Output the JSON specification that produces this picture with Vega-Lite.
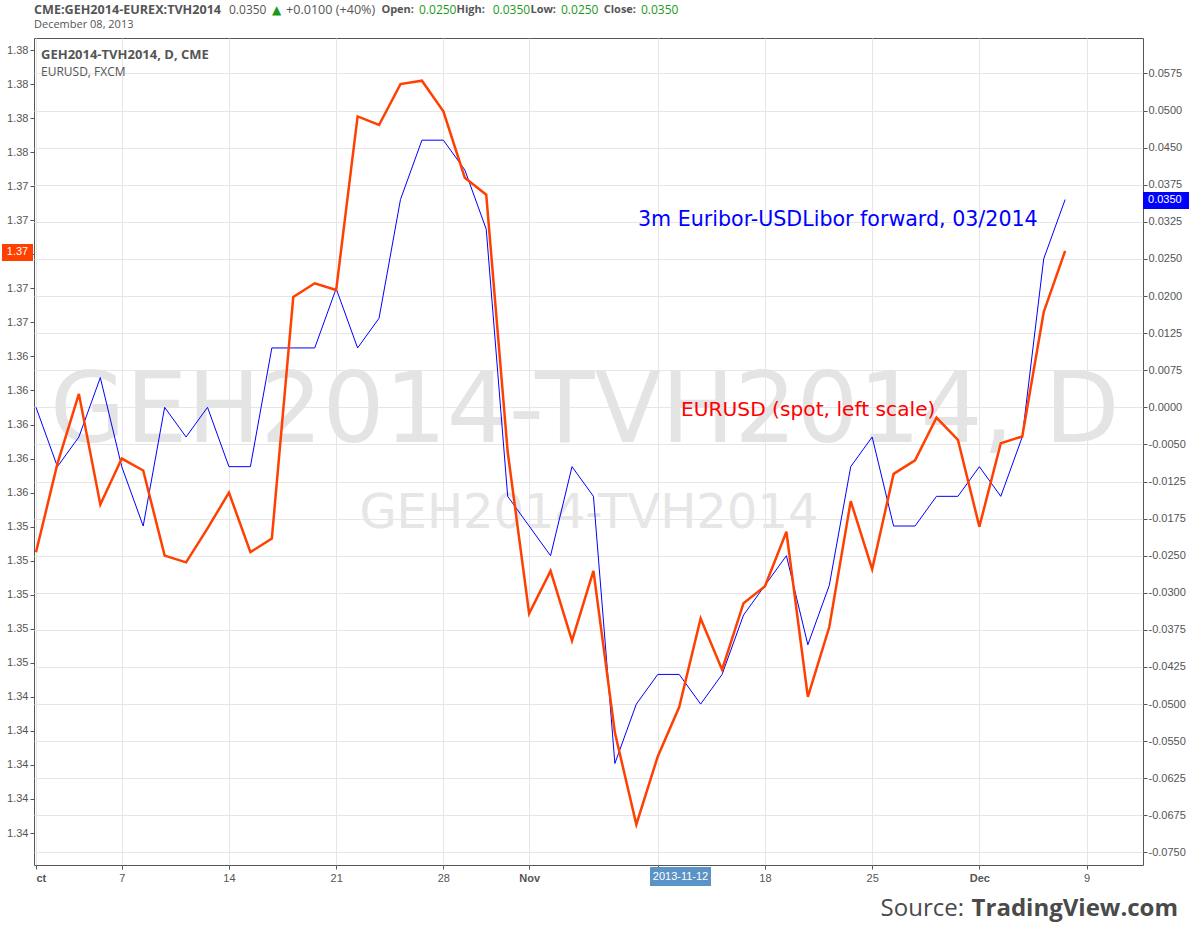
{
  "$schema": "https://vega.github.io/schema/vega-lite/v6.json",
  "width": 1109,
  "height": 827,
  "autosize": "none",
  "padding": {"left": 34, "top": 38, "right": 50, "bottom": 71},
  "background": "white",
  "config": {"view": {"stroke": "#555555", "strokeWidth": 1}},
  "datasets": {
    "prices": [
      {"i": 0, "date": "2013-10-01", "eurusd": 1.3525, "spread": 0.000},
      {"i": 1, "date": "2013-10-02", "eurusd": 1.3577, "spread": -0.010},
      {"i": 2, "date": "2013-10-03", "eurusd": 1.3618, "spread": -0.005},
      {"i": 3, "date": "2013-10-04", "eurusd": 1.3553, "spread": 0.005},
      {"i": 4, "date": "2013-10-07", "eurusd": 1.3580, "spread": -0.010},
      {"i": 5, "date": "2013-10-08", "eurusd": 1.3573, "spread": -0.020},
      {"i": 6, "date": "2013-10-09", "eurusd": 1.3523, "spread": 0.000},
      {"i": 7, "date": "2013-10-10", "eurusd": 1.3519, "spread": -0.005},
      {"i": 8, "date": "2013-10-11", "eurusd": 1.3539, "spread": 0.000},
      {"i": 9, "date": "2013-10-14", "eurusd": 1.3560, "spread": -0.010},
      {"i": 10, "date": "2013-10-15", "eurusd": 1.3525, "spread": -0.010},
      {"i": 11, "date": "2013-10-16", "eurusd": 1.3533, "spread": 0.010},
      {"i": 12, "date": "2013-10-17", "eurusd": 1.3675, "spread": 0.010},
      {"i": 13, "date": "2013-10-18", "eurusd": 1.3683, "spread": 0.010},
      {"i": 14, "date": "2013-10-21", "eurusd": 1.3679, "spread": 0.020},
      {"i": 15, "date": "2013-10-22", "eurusd": 1.3781, "spread": 0.010},
      {"i": 16, "date": "2013-10-23", "eurusd": 1.3776, "spread": 0.015},
      {"i": 17, "date": "2013-10-24", "eurusd": 1.3800, "spread": 0.035},
      {"i": 18, "date": "2013-10-25", "eurusd": 1.3802, "spread": 0.045},
      {"i": 19, "date": "2013-10-28", "eurusd": 1.3784, "spread": 0.045},
      {"i": 20, "date": "2013-10-29", "eurusd": 1.3745, "spread": 0.040},
      {"i": 21, "date": "2013-10-30", "eurusd": 1.3735, "spread": 0.030},
      {"i": 22, "date": "2013-10-31", "eurusd": 1.3584, "spread": -0.015},
      {"i": 23, "date": "2013-11-01", "eurusd": 1.3489, "spread": -0.020},
      {"i": 24, "date": "2013-11-04", "eurusd": 1.3514, "spread": -0.025},
      {"i": 25, "date": "2013-11-05", "eurusd": 1.3473, "spread": -0.010},
      {"i": 26, "date": "2013-11-06", "eurusd": 1.3514, "spread": -0.015},
      {"i": 27, "date": "2013-11-07", "eurusd": 1.3419, "spread": -0.060},
      {"i": 28, "date": "2013-11-08", "eurusd": 1.3365, "spread": -0.050},
      {"i": 29, "date": "2013-11-11", "eurusd": 1.3405, "spread": -0.045},
      {"i": 30, "date": "2013-11-12", "eurusd": 1.3434, "spread": -0.045},
      {"i": 31, "date": "2013-11-13", "eurusd": 1.3486, "spread": -0.050},
      {"i": 32, "date": "2013-11-14", "eurusd": 1.3456, "spread": -0.045},
      {"i": 33, "date": "2013-11-15", "eurusd": 1.3495, "spread": -0.035},
      {"i": 34, "date": "2013-11-18", "eurusd": 1.3505, "spread": -0.030},
      {"i": 35, "date": "2013-11-19", "eurusd": 1.3537, "spread": -0.025},
      {"i": 36, "date": "2013-11-20", "eurusd": 1.3440, "spread": -0.040},
      {"i": 37, "date": "2013-11-21", "eurusd": 1.3481, "spread": -0.030},
      {"i": 38, "date": "2013-11-22", "eurusd": 1.3555, "spread": -0.010},
      {"i": 39, "date": "2013-11-25", "eurusd": 1.3515, "spread": -0.005},
      {"i": 40, "date": "2013-11-26", "eurusd": 1.3571, "spread": -0.020},
      {"i": 41, "date": "2013-11-27", "eurusd": 1.3579, "spread": -0.020},
      {"i": 42, "date": "2013-11-28", "eurusd": 1.3604, "spread": -0.015},
      {"i": 43, "date": "2013-11-29", "eurusd": 1.3591, "spread": -0.015},
      {"i": 44, "date": "2013-12-02", "eurusd": 1.3540, "spread": -0.010},
      {"i": 45, "date": "2013-12-03", "eurusd": 1.3589, "spread": -0.015},
      {"i": 46, "date": "2013-12-04", "eurusd": 1.3593, "spread": -0.005},
      {"i": 47, "date": "2013-12-05", "eurusd": 1.3666, "spread": 0.025},
      {"i": 48, "date": "2013-12-06", "eurusd": 1.3702, "spread": 0.035}
    ]
  },
  "layer": [
    {
      "layer": [
        {
          "data": {"values": [{"label": "GEH2014-TVH2014, D"}]},
          "mark": {"type": "text", "align": "center", "baseline": "alphabetic", "font": "DejaVu Sans", "fontSize": 97.5, "color": "#e4e4e4", "clip": false},
          "encoding": {
            "x": {"datum": 25.6, "type": "quantitative", "scale": {"domain": [-0.0933, 51.632], "nice": false, "zero": false}},
            "y": {"datum": -0.005846, "type": "quantitative", "scale": {"domain": [-0.077106, 0.062214], "nice": false, "zero": false}},
            "text": {"field": "label"}
          }
        },
        {
          "data": {"values": [{"label": "GEH2014-TVH2014"}]},
          "mark": {"type": "text", "align": "center", "baseline": "alphabetic", "font": "DejaVu Sans", "fontSize": 48, "color": "#e6e6e6", "clip": false},
          "encoding": {
            "x": {"datum": 25.79, "type": "quantitative", "scale": {"domain": [-0.0933, 51.632], "nice": false, "zero": false}},
            "y": {"datum": -0.020333, "type": "quantitative", "scale": {"domain": [-0.077106, 0.062214], "nice": false, "zero": false}},
            "text": {"field": "label"}
          }
        },
        {
          "data": {"name": "prices"},
          "mark": {"type": "line", "color": "#0000ff", "strokeWidth": 1, "clip": false},
          "encoding": {
            "x": {
              "field": "i", "type": "quantitative",
              "scale": {"domain": [-0.0933, 51.632], "nice": false, "zero": false},
              "axis": {
                "title": null,
                "values": [0, 4, 9, 14, 19, 23, 29, 34, 39, 44, 49],
                "tickCount": 60,
                "labelExpr": "datum.value==0?'ct':datum.value==4?'7':datum.value==9?'14':datum.value==14?'21':datum.value==19?'28':datum.value==23?'Nov':datum.value==34?'18':datum.value==39?'25':datum.value==44?'Dec':datum.value==49?'9':''",
                "grid": true, "gridColor": "#e6e6e6", "gridWidth": 1,
                "domain": false, "tickSize": 4, "tickColor": "#555555",
                "labelFont": "Liberation Sans", "labelFontSize": 11, "labelColor": "#555555",
                "labelFontWeight": {"condition": {"test": "datum.value==0||datum.value==23||datum.value==44", "value": "bold"}, "value": "normal"},
                "labelAlign": {"condition": {"test": "datum.value==0", "value": "left"}, "value": "center"},
                "labelFlush": false, "labelOverlap": false, "labelPadding": 3
              }
            },
            "y": {
              "field": "spread", "type": "quantitative",
              "scale": {"domain": [-0.077106, 0.062214], "nice": false, "zero": false},
              "axis": {
                "orient": "right", "title": null,
                "values": [-0.075, -0.06875, -0.0625, -0.05625, -0.05, -0.04375, -0.0375, -0.03125, -0.025, -0.01875, -0.0125, -0.00625, 0, 0.00625, 0.0125, 0.01875, 0.025, 0.03125, 0.0375, 0.04375, 0.05, 0.05625],
                "tickCount": 60,
                "labelExpr": "(datum.value < -0.000001 ? '-' : '') + format(abs(round(datum.value*400 + 0.000001))/400, '.4f')",
                "grid": true, "gridColor": "#e6e6e6", "gridWidth": 1,
                "domain": false, "tickSize": 4, "tickColor": "#555555",
                "labelFont": "Liberation Sans", "labelFontSize": 11, "labelColor": "#555555",
                "labelFlush": false, "labelOverlap": false, "labelPadding": 1
              }
            }
          }
        },
        {
          "data": {"values": [{"label": "3m Euribor-USDLibor forward, 03/2014"}]},
          "mark": {"type": "text", "align": "left", "baseline": "middle", "font": "DejaVu Sans", "fontSize": 20.6, "color": "#0000ff", "clip": false},
          "encoding": {
            "x": {"datum": 28.078, "type": "quantitative", "scale": {"domain": [-0.0933, 51.632], "nice": false, "zero": false}},
            "y": {"datum": 0.031554, "type": "quantitative", "scale": {"domain": [-0.077106, 0.062214], "nice": false, "zero": false}},
            "text": {"field": "label"}
          }
        },
        {
          "data": {"values": [{"label": "0.0350"}]},
          "mark": {"type": "rect", "color": "#0000ff", "clip": false},
          "encoding": {
            "x": {"datum": 51.632, "type": "quantitative", "scale": {"domain": [-0.0933, 51.632], "nice": false, "zero": false}},
            "x2": {"datum": 53.778},
            "y": {"datum": 0.03341, "type": "quantitative", "scale": {"domain": [-0.077106, 0.062214], "nice": false, "zero": false}},
            "y2": {"datum": 0.03627}
          }
        },
        {
          "data": {"values": [{"label": "0.0350"}]},
          "mark": {"type": "text", "align": "left", "baseline": "middle", "font": "Liberation Sans", "fontSize": 11, "color": "#ffffff", "clip": false},
          "encoding": {
            "x": {"datum": 51.866, "type": "quantitative", "scale": {"domain": [-0.0933, 51.632], "nice": false, "zero": false}},
            "y": {"datum": 0.03484, "type": "quantitative", "scale": {"domain": [-0.077106, 0.062214], "nice": false, "zero": false}},
            "text": {"field": "label"}
          }
        }
      ]
    },
    {
      "layer": [
        {
          "data": {"name": "prices"},
          "mark": {"type": "line", "color": "#ff4000", "strokeWidth": 2.5, "clip": false},
          "encoding": {
            "x": {"field": "i", "type": "quantitative", "scale": {"domain": [-0.0933, 51.632], "nice": false, "zero": false}},
            "y": {
              "field": "eurusd", "type": "quantitative",
              "scale": {"domain": [1.33412, 1.38271], "nice": false, "zero": false},
              "axis": {
                "orient": "left", "title": null,
                "values": [1.336, 1.338, 1.34, 1.342, 1.344, 1.346, 1.348, 1.35, 1.352, 1.354, 1.356, 1.358, 1.36, 1.362, 1.364, 1.366, 1.368, 1.37, 1.372, 1.374, 1.376, 1.378, 1.38, 1.382],
                "tickCount": 60,
                "labelExpr": "(datum.value > 1.3699 && datum.value < 1.3701) ? '' : format(datum.value, '.2f')",
                "grid": false, "domain": false, "tickSize": 4, "tickColor": "#555555",
                "labelFont": "Liberation Sans", "labelFontSize": 11, "labelColor": "#555555",
                "labelFlush": false, "labelOverlap": false, "labelPadding": 2
              }
            }
          }
        },
        {
          "data": {"values": [{"label": "EURUSD (spot, left scale)"}]},
          "mark": {"type": "text", "align": "left", "baseline": "middle", "font": "DejaVu Sans", "fontSize": 20.2, "color": "#ff0000", "clip": false},
          "encoding": {
            "x": {"datum": 30.084, "type": "quantitative", "scale": {"domain": [-0.0933, 51.632], "nice": false, "zero": false}},
            "y": {"datum": 1.360853, "type": "quantitative", "scale": {"domain": [1.33412, 1.38271], "nice": false, "zero": false}},
            "text": {"field": "label"}
          }
        },
        {
          "data": {"values": [{"label": "1.37"}]},
          "mark": {"type": "rect", "color": "#ff4000", "clip": false},
          "encoding": {
            "x": {"datum": -1.586, "type": "quantitative", "scale": {"domain": [-0.0933, 51.632], "nice": false, "zero": false}},
            "x2": {"datum": -0.140},
            "y": {"datum": 1.369608, "type": "quantitative", "scale": {"domain": [1.33412, 1.38271], "nice": false, "zero": false}},
            "y2": {"datum": 1.370606}
          }
        },
        {
          "data": {"values": [{"label": "1.37"}]},
          "mark": {"type": "text", "align": "center", "baseline": "middle", "font": "Liberation Sans", "fontSize": 11, "color": "#ffffff", "clip": false},
          "encoding": {
            "x": {"datum": -0.863, "type": "quantitative", "scale": {"domain": [-0.0933, 51.632], "nice": false, "zero": false}},
            "y": {"datum": 1.37015, "type": "quantitative", "scale": {"domain": [1.33412, 1.38271], "nice": false, "zero": false}},
            "text": {"field": "label"}
          }
        },
        {
          "data": {"values": [{"label": "2013-11-12"}]},
          "mark": {"type": "rect", "color": "#5b93c7", "clip": false},
          "encoding": {
            "x": {"datum": 28.638, "type": "quantitative", "scale": {"domain": [-0.0933, 51.632], "nice": false, "zero": false}},
            "x2": {"datum": 31.483},
            "y": {"datum": 1.332886, "type": "quantitative", "scale": {"domain": [1.33412, 1.38271], "nice": false, "zero": false}},
            "y2": {"datum": 1.334002}
          }
        },
        {
          "data": {"values": [{"label": "2013-11-12"}]},
          "mark": {"type": "text", "align": "center", "baseline": "middle", "font": "Liberation Sans", "fontSize": 11, "color": "#ffffff", "clip": false},
          "encoding": {
            "x": {"datum": 30.06, "type": "quantitative", "scale": {"domain": [-0.0933, 51.632], "nice": false, "zero": false}},
            "y": {"datum": 1.333444, "type": "quantitative", "scale": {"domain": [1.33412, 1.38271], "nice": false, "zero": false}},
            "text": {"field": "label"}
          }
        },
        {
          "data": {"values": [{"label": "CME:GEH2014-EUREX:TVH2014"}]},
          "mark": {"type": "text", "align": "left", "baseline": "middle", "font": "Open Sans", "fontSize": 12.6, "fontWeight": "bold", "color": "#555555", "clip": false},
          "encoding": {
            "x": {"datum": -0.0933, "type": "quantitative", "scale": {"domain": [-0.0933, 51.632], "nice": false, "zero": false}},
            "y": {"datum": 1.384355, "type": "quantitative", "scale": {"domain": [1.33412, 1.38271], "nice": false, "zero": false}},
            "text": {"field": "label"}
          }
        },
        {
          "data": {"values": [{"label": "0.0350"}]},
          "mark": {"type": "text", "align": "left", "baseline": "middle", "font": "Open Sans", "fontSize": 12, "color": "#555555", "clip": false},
          "encoding": {
            "x": {"datum": 9.002, "type": "quantitative", "scale": {"domain": [-0.0933, 51.632], "nice": false, "zero": false}},
            "y": {"datum": 1.384355, "type": "quantitative", "scale": {"domain": [1.33412, 1.38271], "nice": false, "zero": false}},
            "text": {"field": "label"}
          }
        },
        {
          "data": {"values": [{"label": "▲"}]},
          "mark": {"type": "text", "align": "left", "baseline": "middle", "font": "DejaVu Sans", "fontSize": 12, "color": "#1a9a1a", "clip": false},
          "encoding": {
            "x": {"datum": 11.007, "type": "quantitative", "scale": {"domain": [-0.0933, 51.632], "nice": false, "zero": false}},
            "y": {"datum": 1.384355, "type": "quantitative", "scale": {"domain": [1.33412, 1.38271], "nice": false, "zero": false}},
            "text": {"field": "label"}
          }
        },
        {
          "data": {"values": [{"label": "+0.0100 (+40%)"}]},
          "mark": {"type": "text", "align": "left", "baseline": "middle", "font": "Open Sans", "fontSize": 12.6, "color": "#555555", "clip": false},
          "encoding": {
            "x": {"datum": 11.66, "type": "quantitative", "scale": {"domain": [-0.0933, 51.632], "nice": false, "zero": false}},
            "y": {"datum": 1.384355, "type": "quantitative", "scale": {"domain": [1.33412, 1.38271], "nice": false, "zero": false}},
            "text": {"field": "label"}
          }
        },
        {
          "data": {"values": [{"label": "Open:"}]},
          "mark": {"type": "text", "align": "right", "baseline": "middle", "font": "Open Sans", "fontSize": 11, "fontWeight": "bold", "color": "#555555", "clip": false},
          "encoding": {
            "x": {"datum": 17.63, "type": "quantitative", "scale": {"domain": [-0.0933, 51.632], "nice": false, "zero": false}},
            "y": {"datum": 1.384355, "type": "quantitative", "scale": {"domain": [1.33412, 1.38271], "nice": false, "zero": false}},
            "text": {"field": "label"}
          }
        },
        {
          "data": {"values": [{"label": "0.0250"}]},
          "mark": {"type": "text", "align": "left", "baseline": "middle", "font": "Open Sans", "fontSize": 12, "color": "#1a9a1a", "clip": false},
          "encoding": {
            "x": {"datum": 17.864, "type": "quantitative", "scale": {"domain": [-0.0933, 51.632], "nice": false, "zero": false}},
            "y": {"datum": 1.384355, "type": "quantitative", "scale": {"domain": [1.33412, 1.38271], "nice": false, "zero": false}},
            "text": {"field": "label"}
          }
        },
        {
          "data": {"values": [{"label": "High:"}]},
          "mark": {"type": "text", "align": "right", "baseline": "middle", "font": "Open Sans", "fontSize": 11, "fontWeight": "bold", "color": "#555555", "clip": false},
          "encoding": {
            "x": {"datum": 20.94, "type": "quantitative", "scale": {"domain": [-0.0933, 51.632], "nice": false, "zero": false}},
            "y": {"datum": 1.384355, "type": "quantitative", "scale": {"domain": [1.33412, 1.38271], "nice": false, "zero": false}},
            "text": {"field": "label"}
          }
        },
        {
          "data": {"values": [{"label": "0.0350"}]},
          "mark": {"type": "text", "align": "left", "baseline": "middle", "font": "Open Sans", "fontSize": 12, "color": "#1a9a1a", "clip": false},
          "encoding": {
            "x": {"datum": 21.3, "type": "quantitative", "scale": {"domain": [-0.0933, 51.632], "nice": false, "zero": false}},
            "y": {"datum": 1.384355, "type": "quantitative", "scale": {"domain": [1.33412, 1.38271], "nice": false, "zero": false}},
            "text": {"field": "label"}
          }
        },
        {
          "data": {"values": [{"label": "Low:"}]},
          "mark": {"type": "text", "align": "right", "baseline": "middle", "font": "Open Sans", "fontSize": 11, "fontWeight": "bold", "color": "#555555", "clip": false},
          "encoding": {
            "x": {"datum": 24.254, "type": "quantitative", "scale": {"domain": [-0.0933, 51.632], "nice": false, "zero": false}},
            "y": {"datum": 1.384355, "type": "quantitative", "scale": {"domain": [1.33412, 1.38271], "nice": false, "zero": false}},
            "text": {"field": "label"}
          }
        },
        {
          "data": {"values": [{"label": "0.0250"}]},
          "mark": {"type": "text", "align": "left", "baseline": "middle", "font": "Open Sans", "fontSize": 12, "color": "#1a9a1a", "clip": false},
          "encoding": {
            "x": {"datum": 24.487, "type": "quantitative", "scale": {"domain": [-0.0933, 51.632], "nice": false, "zero": false}},
            "y": {"datum": 1.384355, "type": "quantitative", "scale": {"domain": [1.33412, 1.38271], "nice": false, "zero": false}},
            "text": {"field": "label"}
          }
        },
        {
          "data": {"values": [{"label": "Close:"}]},
          "mark": {"type": "text", "align": "right", "baseline": "middle", "font": "Open Sans", "fontSize": 11, "fontWeight": "bold", "color": "#555555", "clip": false},
          "encoding": {
            "x": {"datum": 27.985, "type": "quantitative", "scale": {"domain": [-0.0933, 51.632], "nice": false, "zero": false}},
            "y": {"datum": 1.384355, "type": "quantitative", "scale": {"domain": [1.33412, 1.38271], "nice": false, "zero": false}},
            "text": {"field": "label"}
          }
        },
        {
          "data": {"values": [{"label": "0.0350"}]},
          "mark": {"type": "text", "align": "left", "baseline": "middle", "font": "Open Sans", "fontSize": 12, "color": "#1a9a1a", "clip": false},
          "encoding": {
            "x": {"datum": 28.218, "type": "quantitative", "scale": {"domain": [-0.0933, 51.632], "nice": false, "zero": false}},
            "y": {"datum": 1.384355, "type": "quantitative", "scale": {"domain": [1.33412, 1.38271], "nice": false, "zero": false}},
            "text": {"field": "label"}
          }
        },
        {
          "data": {"values": [{"label": "December 08, 2013"}]},
          "mark": {"type": "text", "align": "left", "baseline": "middle", "font": "Open Sans", "fontSize": 11, "color": "#555555", "clip": false},
          "encoding": {
            "x": {"datum": -0.0933, "type": "quantitative", "scale": {"domain": [-0.0933, 51.632], "nice": false, "zero": false}},
            "y": {"datum": 1.383474, "type": "quantitative", "scale": {"domain": [1.33412, 1.38271], "nice": false, "zero": false}},
            "text": {"field": "label"}
          }
        },
        {
          "data": {"values": [{"label": "GEH2014-TVH2014, D, CME"}]},
          "mark": {"type": "text", "align": "left", "baseline": "middle", "font": "Open Sans", "fontSize": 13, "fontWeight": "bold", "color": "#555555", "clip": false},
          "encoding": {
            "x": {"datum": 0.233, "type": "quantitative", "scale": {"domain": [-0.0933, 51.632], "nice": false, "zero": false}},
            "y": {"datum": 1.381711, "type": "quantitative", "scale": {"domain": [1.33412, 1.38271], "nice": false, "zero": false}},
            "text": {"field": "label"}
          }
        },
        {
          "data": {"values": [{"label": "EURUSD, FXCM"}]},
          "mark": {"type": "text", "align": "left", "baseline": "middle", "font": "Open Sans", "fontSize": 12, "color": "#555555", "clip": false},
          "encoding": {
            "x": {"datum": 0.233, "type": "quantitative", "scale": {"domain": [-0.0933, 51.632], "nice": false, "zero": false}},
            "y": {"datum": 1.380712, "type": "quantitative", "scale": {"domain": [1.33412, 1.38271], "nice": false, "zero": false}},
            "text": {"field": "label"}
          }
        },
        {
          "data": {"values": [{"label": "Source:"}]},
          "mark": {"type": "text", "align": "right", "baseline": "middle", "font": "Open Sans", "fontSize": 24, "color": "#4a4a4a", "clip": false},
          "encoding": {
            "x": {"datum": 43.284, "type": "quantitative", "scale": {"domain": [-0.0933, 51.632], "nice": false, "zero": false}},
            "y": {"datum": 1.331535, "type": "quantitative", "scale": {"domain": [1.33412, 1.38271], "nice": false, "zero": false}},
            "text": {"field": "label"}
          }
        },
        {
          "data": {"values": [{"label": "TradingView.com"}]},
          "mark": {"type": "text", "align": "right", "baseline": "middle", "font": "Open Sans", "fontSize": 24, "fontWeight": "bold", "color": "#4a4a4a", "clip": false},
          "encoding": {
            "x": {"datum": 53.265, "type": "quantitative", "scale": {"domain": [-0.0933, 51.632], "nice": false, "zero": false}},
            "y": {"datum": 1.331535, "type": "quantitative", "scale": {"domain": [1.33412, 1.38271], "nice": false, "zero": false}},
            "text": {"field": "label"}
          }
        }
      ]
    }
  ],
  "resolve": {"scale": {"y": "independent"}}
}
